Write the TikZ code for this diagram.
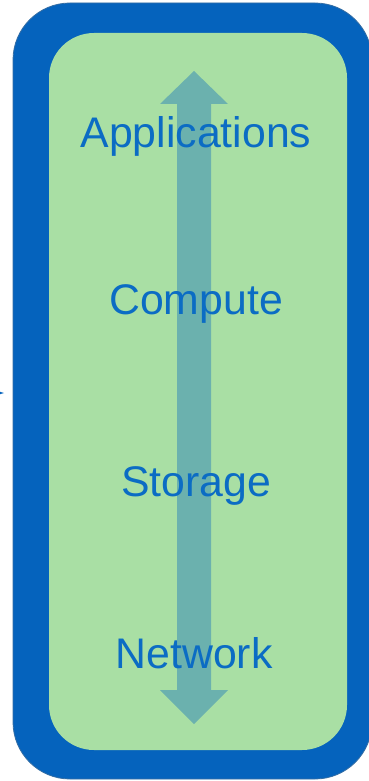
\documentclass[tikz,border=0pt]{standalone}
\usepackage{fontspec}
\setmainfont{Liberation Sans}
\usepackage{tikz}
\usetikzlibrary{calc,positioning}
\definecolor{frameblue}{HTML}{0563BD}
\definecolor{layergreen}{HTML}{A9DFA4}
\definecolor{stackteal}{HTML}{6BB1AE}
\definecolor{labelblue}{HTML}{0B6CC4}
\tikzset{
    layer/.style={text=labelblue, font=\fontsize{42.8}{43}\selectfont, anchor=base, inner sep=0pt},
}

\begin{document}
\begin{tikzpicture}[x=1pt, y=-1pt,
  frame/.style = {fill=frameblue, draw=frameblue!60!gray, line width=0.8pt, rounded corners=57pt},
  panel/.style = {fill=layergreen, rounded corners=45pt},
  stackarrow/.style = {fill=stackteal}]
  \useasboundingbox (0,0) rectangle (369,781);
  % outer frame and inner panel
  \draw[frame] (13,3) rectangle (372,779);
  \fill[panel] (49,33) rectangle (347,750);
  % vertical double arrow
  \fill[stackarrow] (194,71) -- (228,104) -- (211,104) -- (211,690) -- (228,690)
    -- (194,724) -- (160,690) -- (177,690) -- (177,104) -- (160,104) -- cycle;
  % layers
  \node[layer] (app) at (196,147) {Applications};
  \node[layer] (comp) at (196,314) {Compute};
  \node[layer] (stor) at (196,496) {Storage};
  \node[layer] (net) at (194,668) {Network};
  % stray tip at the left edge
  \coordinate (in) at (-10,393);
  \coordinate (tip) at (4,393);
  \draw[frameblue, line width=1.2pt, -latex, shorten <=9pt] (in) -- (tip);
\end{tikzpicture}
\end{document}
